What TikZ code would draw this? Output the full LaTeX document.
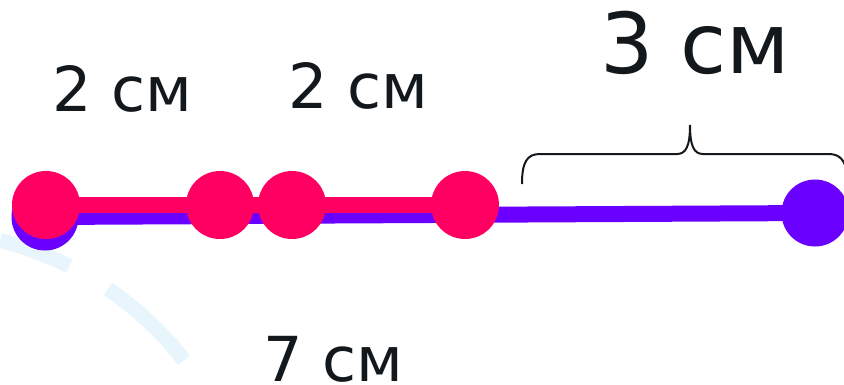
\documentclass[tikz,border=0pt]{standalone}
\usepackage{fontspec}
\setmainfont{DejaVu Sans}
\usetikzlibrary{backgrounds}
\definecolor{pinkc}{HTML}{FF0062}
\definecolor{purplec}{HTML}{6A00FF}
\definecolor{inkc}{HTML}{13181C}
\definecolor{wmark}{HTML}{E9F5FD}
\tikzset{
  pinkdot/.style={circle, fill=pinkc, inner sep=0pt, minimum size=68pt},
  purpledot/.style={circle, fill=purplec, inner sep=0pt, minimum size=67pt},
  pinkline/.style={draw=pinkc, line width=16pt},
  purpleline/.style={draw=purplec, line width=16pt},
  lbl/.style={text=inkc, inner sep=0pt, anchor=base west},
  bracestyle/.style={draw=inkc, line width=2pt},
  wmarc/.style={draw=wmark, line width=15pt}
}
\begin{document}
\begin{tikzpicture}[x=1pt,y=-1pt]
\useasboundingbox (0,0) rectangle (844,384);
% faint background arcs
\draw[wmarc] (-83,569) ++(-75.8:339) arc[start angle=-75.8, end angle=-63.3, radius=339];
\draw[wmarc] (-83,569) ++(-55.7:339) arc[start angle=-55.7, end angle=-38, radius=339];
% dots
\node[purpledot] (q1) at (45,217) {};
\node[purpledot] (q2) at (815,213) {};
\node[pinkdot] (p1) at (46,205) {};
\node[pinkdot] (p2) at (220,205) {};
\node[pinkdot] (p3) at (292,205) {};
\node[pinkdot] (p4) at (465,205) {};
\begin{scope}[on background layer]
\draw[purpleline] (q1.center) -- (q2.center);
\draw[pinkline] (p1.center) -- (p4.center);
\end{scope}
% brace
\draw[bracestyle] (522,184) .. controls (522,162) and (527,154) .. (540,154)
  -- (677,154) .. controls (686,154) and (690,146) .. (690,125)
  .. controls (690,146) and (694,154) .. (703,154)
  -- (828,154) .. controls (838,154) and (843,158) .. (846,168);
% labels
\node[lbl, font=\fontsize{62}{70}\selectfont] (t1) at (52,111) {2 см};
\node[lbl, font=\fontsize{62}{70}\selectfont] (t2) at (288,108) {2 см};
\node[lbl, font=\fontsize{84}{90}\selectfont] (t3) at (600,73) {3 см};
\node[lbl, font=\fontsize{62}{70}\selectfont] (t4) at (263,381) {7 см};
\end{tikzpicture}
\end{document}
